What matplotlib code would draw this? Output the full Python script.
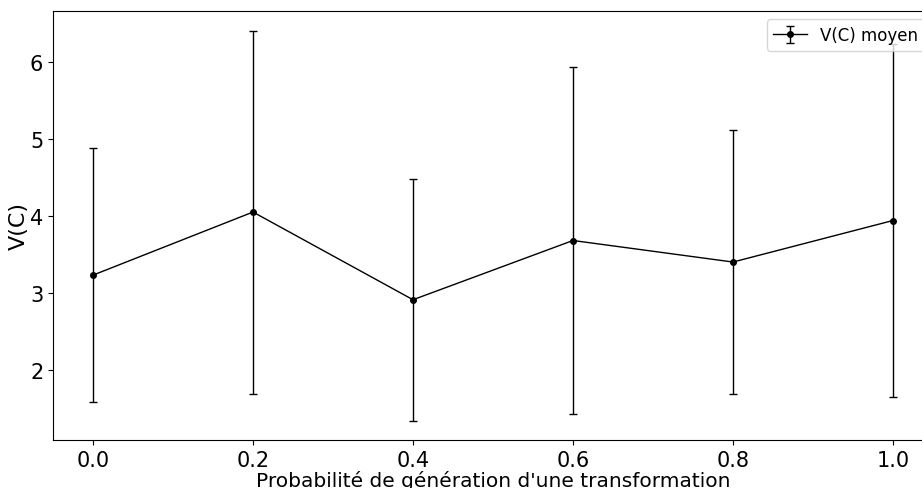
import numpy as np
import matplotlib
matplotlib.use('Agg')
import matplotlib.pyplot as plt

# probabilities and mean V(C) with std
probas = [0.0, 0.2, 0.4, 0.6, 0.8, 1.0]
vc_mean = [3.23, 4.05, 2.91, 3.68, 3.40, 3.94]
vc_std = [1.65, 2.36, 1.57, 2.25, 1.72, 2.29]

fig = plt.figure(figsize=(9.22, 4.89), dpi=100)
# axes goes a bit past the right edge (as in the original crop)
ax = fig.add_axes([53 / 922, 1 - 441 / 489, 880 / 922, 429 / 489])

ax.errorbar(probas, vc_mean, yerr=vc_std, color='black', marker='o',
            markersize=4, linewidth=1, elinewidth=1, capsize=3,
            label='V(C) moyen')

ax.set_xlabel("Probabilité de génération d'une transformation", fontsize=14.5, labelpad=0)
ax.set_ylabel('V(C)', fontsize=16, labelpad=1)
ax.tick_params(labelsize=15)
ax.legend(loc='upper right', fontsize=12)

fig.savefig('out.png', dpi=100)
